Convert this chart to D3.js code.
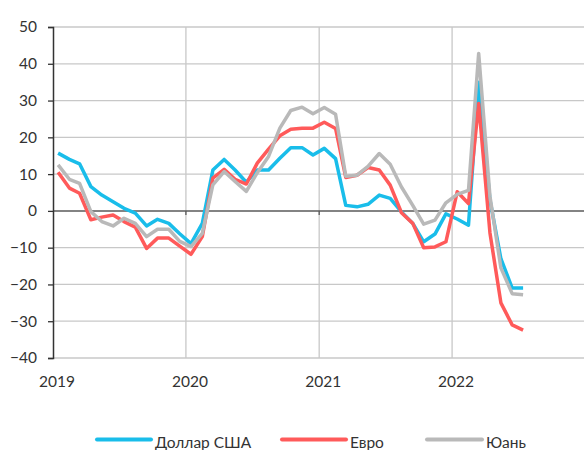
<!DOCTYPE html>
<html>
<head>
<meta charset="utf-8">
<script src="https://cdn.jsdelivr.net/npm/d3@7"></script>
<style>
  html, body { margin: 0; padding: 0; background: #fff; }
  svg { display: block; }
  text { font-family: Lato, "Open Sans", "DejaVu Sans", sans-serif; fill: #333; }
</style>
</head>
<body>
<svg id="chart" width="584" height="450"></svg>
<script>
// ---- data ----
const months = [
  "2019-01","2019-02","2019-03","2019-04","2019-05","2019-06","2019-07","2019-08","2019-09","2019-10","2019-11","2019-12",
  "2020-01","2020-02","2020-03","2020-04","2020-05","2020-06","2020-07","2020-08","2020-09","2020-10","2020-11","2020-12",
  "2021-01","2021-02","2021-03","2021-04","2021-05","2021-06","2021-07","2021-08","2021-09","2021-10","2021-11","2021-12",
  "2022-01","2022-02","2022-03","2022-04","2022-05","2022-06","2022-07"
];
const dollar = [
  15.7, 14.0, 12.8, 6.6, 4.3, 2.5, 0.7, -0.6, -4.1, -2.3, -3.4, -6.2,
  -8.9, -3.4, 11.1, 14.0, 11.1, 7.8, 11.1, 11.1, 14.3, 17.2, 17.2, 15.2,
  17.0, 14.2, 1.5, 1.1, 1.8, 4.3, 3.4, -0.3, -3.4, -8.4, -6.3, -0.8,
  -2.2, -3.9, 35.0, 3.0, -13.0, -21.0, -21.0
];
const euro = [
  10.5, 6.2, 4.8, -2.4, -1.7, -1.1, -2.9, -4.4, -10.2, -7.4, -7.4, -9.6,
  -11.8, -7.0, 8.9, 11.3, 8.6, 7.3, 13.0, 16.8, 20.4, 22.2, 22.5, 22.5,
  24.1, 22.4, 9.1, 9.7, 11.8, 11.1, 7.0, -0.5, -3.4, -10.0, -9.8, -8.4,
  5.2, 2.0, 29.2, -6.0, -25.0, -31.0, -32.4
];
const yuan = [
  12.5, 8.6, 7.5, -0.2, -2.9, -4.1, -2.0, -3.4, -7.0, -5.0, -5.0, -8.3,
  -9.7, -6.1, 7.1, 10.7, 8.0, 5.3, 10.4, 14.8, 22.5, 27.3, 28.2, 26.4,
  28.1, 26.3, 9.4, 9.7, 12.1, 15.6, 12.7, 6.5, 1.5, -3.6, -2.5, 2.2,
  4.5, 5.6, 42.8, 4.0, -15.5, -22.5, -22.8
];
const seriesNames = ["Доллар США", "Евро", "Юань"];
const seriesColors = ["#19BDEA", "#FF5A5A", "#B9B9B9"];
const yTicks = [-40, -30, -20, -10, 0, 10, 20, 30, 40, 50];
const xYears = ["2019", "2020", "2021", "2022"];

// ---- chart ----
const svg = d3.select("#chart");
const parse = d3.timeParse("%Y-%m-%d");
const dates = months.map(m => parse(m + "-15"));

const x = d3.scaleTime()
  .domain([parse("2019-01-01"), parse("2023-01-01")])
  .range([53, 585]);
const y = d3.scaleLinear().domain([-40, 50]).range([358, 27]);

const g = svg.append("g");

// horizontal gridlines
g.selectAll("line.hgrid").data(yTicks.filter(d => d !== 0)).enter()
  .append("line").attr("class", "hgrid")
  .attr("x1", 53).attr("x2", 585)
  .attr("y1", d => y(d)).attr("y2", d => y(d))
  .attr("stroke", "#C8C8C8").attr("stroke-width", 1.3);

// vertical gridlines at years
g.selectAll("line.vgrid").data(xYears.slice(1)).enter()
  .append("line").attr("class", "vgrid")
  .attr("x1", d => x(parse(d + "-01-01"))).attr("x2", d => x(parse(d + "-01-01")))
  .attr("y1", y(50)).attr("y2", y(-40))
  .attr("stroke", "#C8C8C8").attr("stroke-width", 1.3);

// zero line with ticks
g.append("line")
  .attr("x1", 53).attr("x2", 585)
  .attr("y1", y(0)).attr("y2", y(0))
  .attr("stroke", "#5A5A5A").attr("stroke-width", 1.5);
g.selectAll("line.xtick").data(xYears.slice(1)).enter()
  .append("line").attr("class", "xtick")
  .attr("x1", d => x(parse(d + "-01-01"))).attr("x2", d => x(parse(d + "-01-01")))
  .attr("y1", y(0)).attr("y2", y(0) + 4)
  .attr("stroke", "#5A5A5A").attr("stroke-width", 1.3);

// y axis
const yAxis = d3.axisLeft(y).tickValues(yTicks).tickSize(5).tickPadding(11);
const ya = svg.append("g").attr("transform", "translate(53,0)").call(yAxis);
ya.select(".domain").attr("stroke", "#333").attr("stroke-width", 1.5);
ya.selectAll(".tick line").attr("stroke", "#333").attr("stroke-width", 1.3);
ya.selectAll(".tick text")
  .style("font-family", "Lato, 'Open Sans', sans-serif")
  .style("font-size", "15.5px").attr("fill", "#333");

// x labels
svg.selectAll("text.xl").data(xYears).enter()
  .append("text").attr("class", "xl")
  .attr("x", d => x(parse(d + "-01-01")) + 4)
  .attr("y", 387)
  .attr("text-anchor", "middle")
  .style("font-size", "15.5px")
  .text(d => d);

// lines
const allSeries = [dollar, euro, yuan];
const line = d3.line()
  .x((d, i) => x(dates[i]))
  .y(d => y(d));
allSeries.forEach((s, k) => {
  svg.append("path")
    .datum(s)
    .attr("d", line)
    .attr("fill", "none")
    .attr("stroke", seriesColors[k])
    .attr("stroke-width", 3.5)
    .attr("stroke-linejoin", "round");
});

// legend
const legendX = [97, 282, 427];
const legendLen = [54, 64, 55];
const lg = svg.append("g");
seriesNames.forEach((name, k) => {
  lg.append("line")
    .attr("x1", legendX[k]).attr("x2", legendX[k] + legendLen[k])
    .attr("y1", 439.5).attr("y2", 439.5)
    .attr("stroke", seriesColors[k]).attr("stroke-width", 4)
    .attr("stroke-linecap", "round");
  lg.append("text")
    .attr("x", legendX[k] + legendLen[k] + 4)
    .attr("y", 447.5)
    .style("font-size", "15.5px")
    .text(name);
});
</script>
</body>
</html>
